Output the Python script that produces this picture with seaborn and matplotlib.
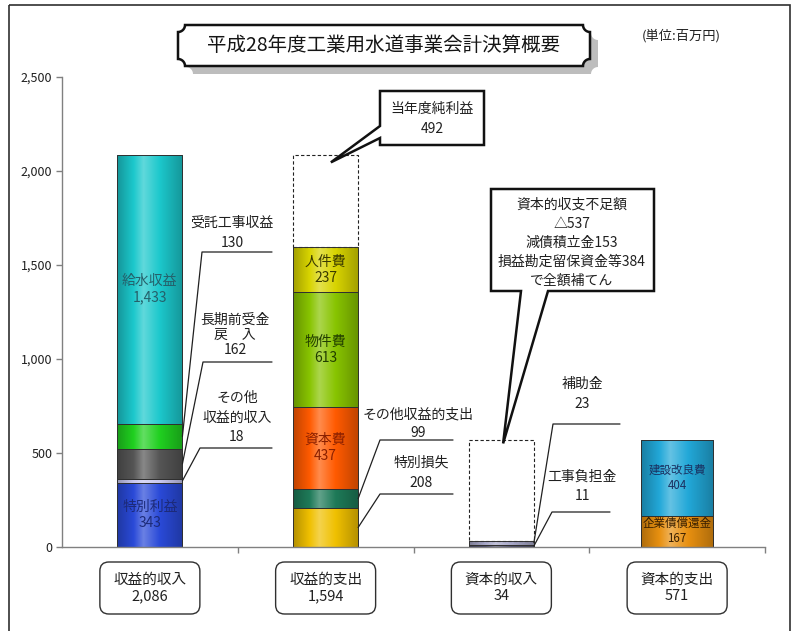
import numpy as np
import pandas as pd
import matplotlib
matplotlib.use('Agg')
import matplotlib.pyplot as plt
import matplotlib.transforms as mtransforms
from matplotlib.patches import Polygon, FancyBboxPatch, Rectangle
from matplotlib.colors import LinearSegmentedColormap, to_rgb
from matplotlib.ticker import FuncFormatter, MultipleLocator
import seaborn as sns

# 平成28年度 工業用水道事業会計 決算 (単位:百万円)
categories = ['収益的収入', '収益的支出', '資本的収入', '資本的支出']
category_totals = [2086, 1594, 34, 571]

rev_in_items = ['特別利益', 'その他収益的収入', '長期前受金戻入', '受託工事収益', '給水収益']
rev_in_values = [343, 18, 162, 130, 1433]
rev_out_items = ['特別損失', 'その他収益的支出', '資本費', '物件費', '人件費']
rev_out_values = [208, 99, 437, 613, 237]
cap_in_items = ['工事負担金', '補助金']
cap_in_values = [11, 23]
cap_out_items = ['企業債償還金', '建設改良費']
cap_out_values = [167, 404]

net_profit = 492       # 当年度純利益
cap_shortfall = 537    # 資本的収支不足額
debt_reserve = 153     # 減債積立金
retained_funds = 384   # 損益勘定留保資金等

item_colors = {
    '特別利益': '#2a4ad8', 'その他収益的収入': '#c8c8f0', '長期前受金戻入': '#555555',
    '受託工事収益': '#20d020', '給水収益': '#1cc8cc',
    '特別損失': '#f0c000', 'その他収益的支出': '#1e7a58', '資本費': '#ff5a00',
    '物件費': '#88c400', '人件費': '#d8d400',
    '工事負担金': '#484868', '補助金': '#a8a8c8',
    '企業債償還金': '#e89010', '建設改良費': '#22a8d8',
}
# labels drawn inside the bars and their text colour
inner_labels = {
    '給水収益': '#25606a', '特別利益': '#1c2a78', '人件費': '#3a3a00', '物件費': '#223e00',
    '資本費': '#8a2000', '建設改良費': '#1a3060', '企業債償還金': '#3a2000',
}

sns.set_theme(style='white')
plt.rcParams['font.family'] = ['Noto Sans CJK JP', 'DejaVu Sans']

rows = []
for cat, items, vals in zip(categories,
                            [rev_in_items, rev_out_items, cap_in_items, cap_out_items],
                            [rev_in_values, rev_out_values, cap_in_values, cap_out_values]):
    bottom = 0
    for name, v in zip(items, vals):
        rows.append(dict(cat=cat, item=name, value=v, bottom=bottom))
        bottom += v
seg = pd.DataFrame(rows)

fig = plt.figure(figsize=(7.92, 6.31), dpi=100)
# reference pixel coordinates (y downwards) for the decorations
T = mtransforms.Affine2D().scale(1 / 792, -1 / 631).translate(0, 1) + fig.transFigure
ax = fig.add_axes([62 / 792, 1 - 547 / 631, 703 / 792, 470 / 631])
bar_widths = [0.37, 0.37, 0.37, 0.41]

# dashed boxes on top: net profit and capital shortfall
sns.barplot(x=[categories[1]], y=[net_profit], order=categories, bottom=sum(rev_out_values),
            color='white', saturation=1, width=bar_widths[1], edgecolor='#222222', linewidth=0.8,
            linestyle=(0, (3, 2)), errorbar=None, ax=ax)
sns.barplot(x=[categories[2]], y=[cap_shortfall], order=categories, bottom=sum(cap_in_values),
            color='white', saturation=1, width=bar_widths[2], edgecolor='#222222', linewidth=0.8,
            linestyle=(0, (3, 2)), errorbar=None, ax=ax)
n_dashed = len(ax.patches)

for r in seg.itertuples():
    sns.barplot(x=[r.cat], y=[r.value], order=categories, bottom=r.bottom,
                color=item_colors[r.item], saturation=1, width=bar_widths[categories.index(r.cat)],
                edgecolor='#303030', linewidth=0.7, errorbar=None, ax=ax)

# cylinder-like shading on the coloured segments
grad = np.linspace(0, 1, 128).reshape(1, -1)
for patch in ax.patches[n_dashed:]:
    c = np.array(to_rgb(patch.get_facecolor()))
    light = c + (1 - c) * 0.3
    dark = c * 0.75
    cmap = LinearSegmentedColormap.from_list('g', [(0, dark), (0.25, c), (0.4, light), (0.65, c), (1, dark)])
    x0, y0 = patch.get_x(), patch.get_y()
    im = ax.imshow(grad, extent=(x0, x0 + patch.get_width(), y0, y0 + patch.get_height()),
                   aspect='auto', cmap=cmap, zorder=0.9, interpolation='bilinear')
    im.set_clip_path(patch)
    patch.set_facecolor('none')
ax.set_xlim(-0.5, 3.5)
ax.set_ylim(0, 2500)

for s in ['top', 'right']:
    ax.spines[s].set_visible(False)
for s in ['left', 'bottom']:
    ax.spines[s].set_color('#808080')
    ax.spines[s].set_linewidth(1)
ax.yaxis.set_major_locator(MultipleLocator(500))
ax.yaxis.set_major_formatter(FuncFormatter(lambda v, p: f'{v:,.0f}'))
ax.set_xticks([0.5, 1.5, 2.5, 3.5])
ax.set_xticklabels([])
ax.tick_params(axis='both', direction='out', length=4, color='#808080', width=1,
               left=True, bottom=True, labelsize=9, labelcolor='#202020', pad=3)
ax.set_xlabel('')
ax.set_ylabel('')


def to_px(x, y):
    return T.inverted().transform(ax.transData.transform((x, y)))


# labels inside bars
for r in seg.itertuples():
    if r.item in inner_labels:
        i = categories.index(r.cat)
        fs = 8.3 if i == 3 else 10
        ax.text(i, r.bottom + r.value / 2, f'{r.item}\n{r.value:,}', ha='center', va='center',
                fontsize=fs, color=inner_labels[r.item], linespacing=1.2, zorder=5)

# leader-line labels: item, lines, text x, line ys, leader y, leader x0, x1
leaders = [
    ('受託工事収益', ['受託工事収益', '{v}'], 232, [223, 243], 252, 202, 272),
    ('長期前受金戻入', ['長期前受金', '戻　入', '{v}'], 235, [320, 335, 350], 362, 203, 272),
    ('その他収益的収入', ['その他', '収益的収入', '{v}'], 237, [398, 418, 437], 448, 200, 272),
    ('その他収益的支出', ['その他収益的支出', '{v}'], 418, [415, 433], 440, 380, 453),
    ('特別損失', ['特別損失', '{v}'], 421, [463, 483], 494, 380, 453),
    ('補助金', ['補助金', '{v}'], 582, [384, 404], 424, 553, 620),
    ('工事負担金', ['工事負担金', '{v}'], 582, [477, 496], 512, 552, 610),
]
for item, lines, tx, tys, ly, lx0, lx1 in leaders:
    r = seg[seg['item'] == item].iloc[0]
    i = categories.index(r['cat'])
    ex, ey = to_px(i + bar_widths[i] / 2, r['bottom'] + r['value'] / 2)
    for line, ty in zip(lines, tys):
        fig.text(tx, ty, line.format(v=r['value']), transform=T, ha='center', va='center',
                 fontsize=10, color='#202020')
    fig.add_artist(plt.Line2D([lx1, lx0, ex], [ly, ly, ey], transform=T, color='#202020', lw=0.9))

# callout: net profit
tipx, tipy = to_px(1 + 0.03, sum(rev_out_values) + net_profit - 40)
fig.add_artist(Polygon([(380, 91), (484, 91), (484, 145), (380, 145), (380, 138), (tipx, tipy), (380, 126)],
                       closed=True, transform=T, facecolor='white', edgecolor='#111111', lw=1.8, zorder=6))
fig.text(432, 109, '当年度純利益', transform=T, ha='center', va='center', fontsize=10, color='#202020', zorder=7)
fig.text(432, 129, f'{net_profit}', transform=T, ha='center', va='center', fontsize=10, color='#202020', zorder=7)

# callout: capital shortfall
tipx, tipy = to_px(2 + 0.01, sum(cap_in_values) + cap_shortfall - 20)
fig.add_artist(Polygon([(491, 189), (654, 189), (654, 291), (548, 291), (tipx, tipy), (521, 291), (491, 291)],
                       closed=True, transform=T, facecolor='white', edgecolor='#111111', lw=1.8, zorder=6))
short_lines = ['資本的収支不足額', f'△{cap_shortfall}', f'減債積立金{debt_reserve}',
               f'損益勘定留保資金等{retained_funds}', 'で全額補てん']
for k, line in enumerate(short_lines):
    fig.text(572, 205 + k * 19, line, transform=T, ha='center', va='center', fontsize=10,
             color='#202020', zorder=7)


# title plaque with shadow
def plaque(x0, y0, x1, y1, r):
    t = np.linspace(0, np.pi / 2, 12)
    pts = [(x0 + r * np.sin(a), y0 + r * np.cos(a)) for a in t]
    pts += [(x1 - r * np.cos(a), y0 + r * np.sin(a)) for a in t]
    pts += [(x1 - r * np.sin(a), y1 - r * np.cos(a)) for a in t]
    pts += [(x0 + r * np.cos(a), y1 - r * np.sin(a)) for a in t]
    return pts


fig.add_artist(Polygon(plaque(186, 33, 598, 74, 7), closed=True, transform=T,
                       facecolor='#bdbdbd', edgecolor='none', zorder=5))
fig.add_artist(Polygon(plaque(178, 25, 590, 66, 7), closed=True, transform=T,
                       facecolor='white', edgecolor='#111111', lw=1.8, zorder=6))
fig.text(384, 45, '平成28年度工業用水道事業会計決算概要', transform=T, ha='center', va='center',
         fontsize=14, color='#151515', zorder=7)
fig.text(681, 36, '(単位:百万円)', transform=T, ha='center', va='center', fontsize=9.5, color='#202020')

# category boxes under the axis
for i, (cat, total) in enumerate(zip(categories, category_totals)):
    cx = to_px(i, 0)[0]
    fig.add_artist(FancyBboxPatch((cx - 50, 562), 100, 52, boxstyle='round,pad=0,rounding_size=9',
                                  transform=T, facecolor='white', edgecolor='#303030', lw=1))
    fig.text(cx, 588, f'{cat}\n{total:,}', transform=T, ha='center', va='center', fontsize=10.5,
             color='#202020', linespacing=1.15)

# outer frame
fig.add_artist(Rectangle((9, 5), 781, 640, transform=T, facecolor='none', edgecolor='#303030',
                         lw=1.2, clip_on=False))

fig.savefig('out.png', dpi=100)
